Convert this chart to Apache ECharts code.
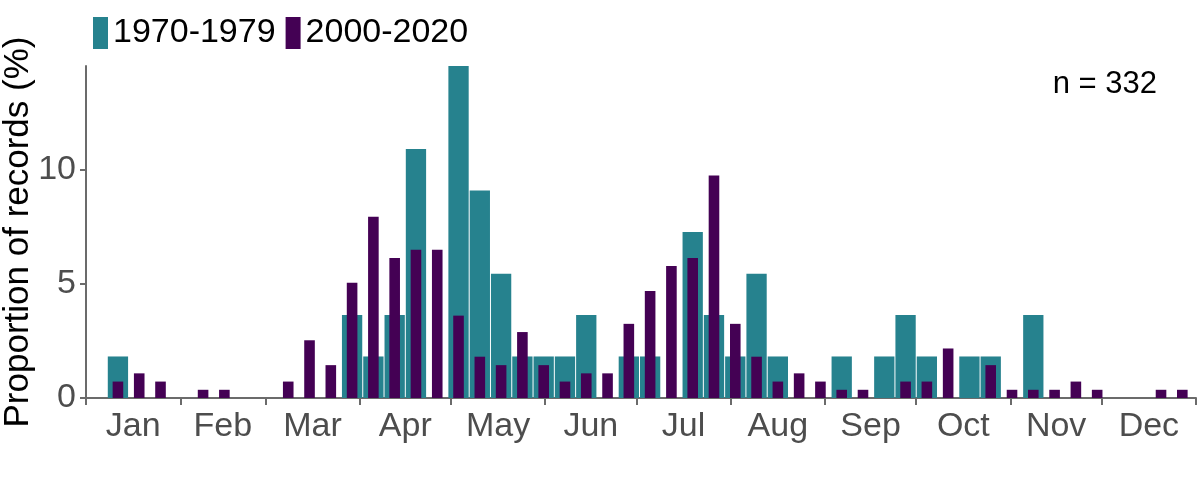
<!DOCTYPE html>
<html>
<head>
<meta charset="utf-8">
<script src="https://cdn.jsdelivr.net/npm/echarts@6/dist/echarts.min.js"></script>
<style>
html,body{margin:0;padding:0;background:#fff;}
#chart{width:1200px;height:480px;}
</style>
</head>
<body>
<div id="chart"></div>
<script>
// Month names and the day-of-year on which each month starts (plus year end)
const months = ['Jan','Feb','Mar','Apr','May','Jun','Jul','Aug','Sep','Oct','Nov','Dec'];
const monthStartDays = [0,31,59,90,120,151,181,212,243,273,304,334,365];

// Weekly bins: start day of each 7-day bin
const weekStartDays = [0,7,14,21,28,35,42,49,56,63,70,77,84,91,98,105,112,119,126,133,140,147,154,161,168,175,182,189,196,203,210,217,224,231,238,245,252,259,266,273,280,287,294,301,308,315,322,329,336,343,350,357];

// Proportion of records (%) per weekly bin
const series1970 = [0,1.82,0,0,0,0,0,0,0,0,0,0,3.64,1.82,3.64,10.91,0,14.55,9.09,5.45,1.82,1.82,1.82,3.64,0,1.82,1.82,0,7.27,3.64,1.82,5.45,1.82,0,0,1.82,0,1.82,3.64,1.82,0,1.82,1.82,0,3.64,0,0,0,0,0,0,0];
const series2000 = [0,0.72,1.08,0.72,0,0.36,0.36,0,0,0.72,2.53,1.44,5.05,7.94,6.14,6.50,6.50,3.61,1.81,1.44,2.89,1.44,0.72,1.08,1.08,3.25,4.69,5.78,6.14,9.75,3.25,1.81,0.72,1.08,0.72,0.36,0.36,0,0.72,0.72,2.17,0,1.44,0.36,0.36,0.36,0.72,0.36,0,0,0.36,0.36];

const seriesNames = ['1970-1979','2000-2020'];
const yTicks = [0,5,10];
const yMax = 14.55;
const nLabel = 'n = 332';

const FONT = '"Liberation Sans", Arial, sans-serif';
const monthMids = months.map((m,i)=> (monthStartDays[i]+monthStartDays[i+1])/2);
const toPairs = arr => arr.map((v,i)=>[weekStartDays[i]+3.5, v]);
function monthOf(v){
  for(let i=0;i<months.length;i++){ if(v>=monthStartDays[i] && v<monthStartDays[i+1]) return months[i]; }
  return '';
}

const chart = echarts.init(document.getElementById('chart'), null, {renderer:'canvas'});
const axisColor = '#6b6b6b';
chart.setOption({
  animation:false,
  backgroundColor:'#ffffff',
  textStyle:{fontFamily:FONT},
  grid:{left:86, right:4, top:66, bottom:82, containLabel:false, outerBoundsMode:'none'},
  legend:{
    data:seriesNames, left:93, top:16, padding:0, icon:'rect', itemWidth:15, itemHeight:32, itemGap:10,
    textStyle:{fontSize:34, color:'#000', fontFamily:FONT}
  },
  graphic:[{
    type:'text', right:43, top:69,
    style:{text:nLabel, font:'31px '+FONT, fill:'#000'}
  }],
  xAxis:[{
    type:'value', min:0, max:365,
    axisLine:{show:true, lineStyle:{color:axisColor, width:2}},
    axisTick:{show:true, customValues:monthStartDays, length:7, lineStyle:{color:axisColor, width:2}},
    axisLabel:{customValues:monthMids, formatter:v=>monthOf(v), fontSize:34, color:'#4d4d4d', margin:12, fontFamily:FONT},
    splitLine:{show:false}
  },{
    type:'value', min:0, max:365, show:false, position:'bottom'
  }],
  yAxis:{
    type:'value', min:0, max:yMax, interval:5,
    name:'Proportion of records (%)', nameLocation:'middle', nameGap:50, nameRotate:90, nameMoveOverlap:false,
    nameTextStyle:{fontSize:35, color:'#000', fontFamily:FONT},
    axisLine:{show:true, lineStyle:{color:axisColor, width:2}},
    axisTick:{show:true, customValues:yTicks, length:6, lineStyle:{color:axisColor, width:2}},
    axisLabel:{customValues:yTicks, fontSize:34, color:'#4d4d4d', margin:10, fontFamily:FONT},
    splitLine:{show:false}
  },
  series:[{
    name:seriesNames[0], type:'bar', xAxisIndex:0, yAxisIndex:0,
    data:toPairs(series1970), barWidth:20.3, itemStyle:{color:'#26828E'}
  },{
    name:seriesNames[1], type:'bar', xAxisIndex:1, yAxisIndex:0,
    data:toPairs(series2000), barWidth:10.6, itemStyle:{color:'#440154'}
  }]
});
</script>
</body>
</html>
